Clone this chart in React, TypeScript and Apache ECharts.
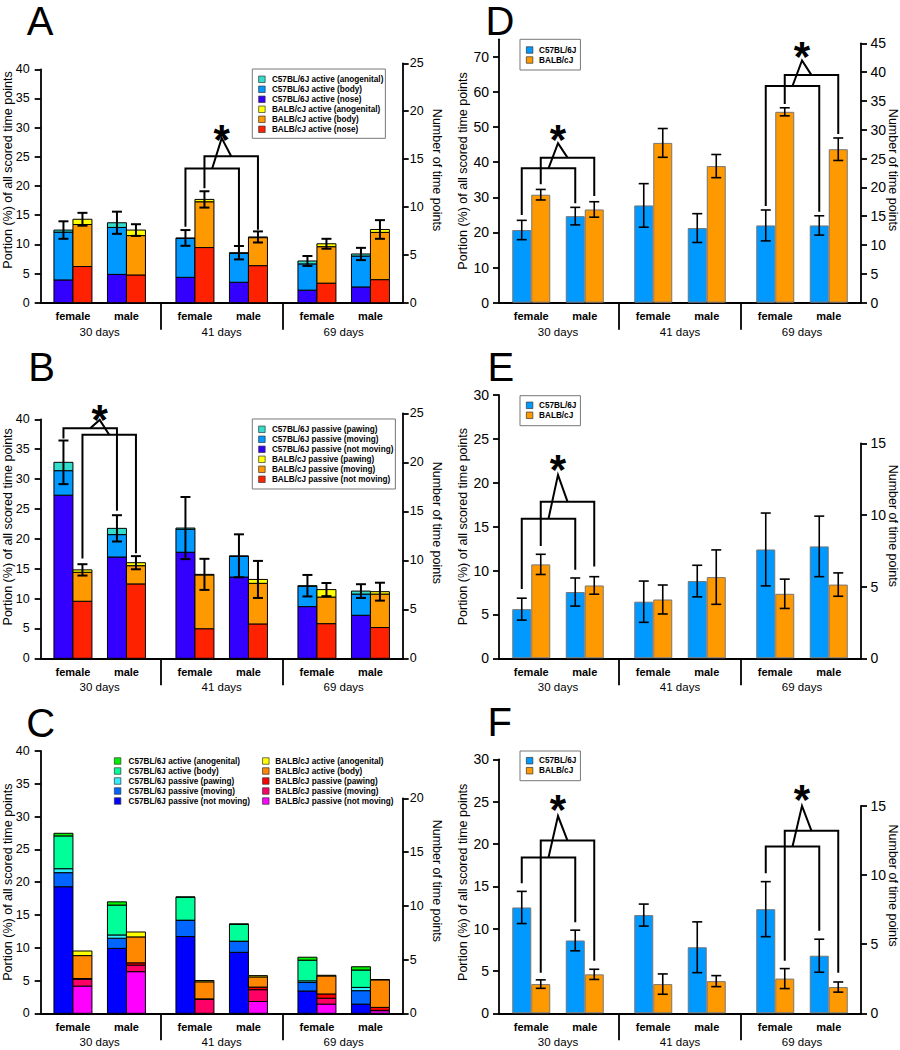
import React, { useEffect, useRef } from "react";
import * as echarts from "echarts";

const FONT = "'Liberation Sans', Arial, Helvetica, sans-serif";
const X_MAX = 362;
const BAR_W = 19;

const dayLabels = ["30 days", "41 days", "69 days"];
const sexLabels = ["female", "male"];
const strainNames = ["C57BL/6J", "BALB/cJ"];
const yTitle = "Portion (%) of all scored time points";
const rTitle = "Number of time points";

const pct40Ticks = [0, 5, 10, 15, 20, 25, 30, 35, 40];
const pct70Ticks = [0, 10, 20, 30, 40, 50, 60, 70];
const pct30Ticks = [0, 5, 10, 15, 20, 25, 30];
const n25Ticks = [0, 5, 10, 15, 20, 25];
const n20Ticks = [0, 5, 10, 15, 20];
const n45Ticks = [0, 5, 10, 15, 20, 25, 30, 35, 40, 45];
const n15Ticks = [0, 5, 10, 15];

// Order of every value array: female 30 d, male 30 d, female 41 d, male 41 d, female 69 d, male 69 d
// Panel A – active (stacked bottom -> top: nose, body, anogenital)
const aC57Nose = [3.9, 4.85, 4.35, 3.5, 2.15, 2.7];
const aC57Body = [8.2, 8.05, 6.65, 4.95, 4.5, 5.3];
const aC57Ano = [0.35, 0.8, 0.1, 0.12, 0.5, 0.35];
const aBalbNose = [6.2, 4.75, 9.45, 6.35, 3.35, 3.95];
const aBalbBody = [7.2, 6.75, 7.85, 4.8, 6.25, 8.1];
const aBalbAno = [0.9, 0.95, 0.4, 0.12, 0.5, 0.5];
const aC57Err = [1.5, 1.9, 1.35, 1.15, 0.85, 1.05];
const aBalbErr = [1.1, 1.0, 1.4, 0.95, 0.85, 1.6];

// Panel B – passive (stacked: not moving, moving, pawing)
const bC57Still = [27.3, 16.95, 17.75, 13.6, 8.65, 7.2];
const bC57Moving = [4.1, 3.75, 3.85, 3.45, 3.4, 3.55];
const bC57Pawing = [1.4, 1.05, 0.2, 0.1, 0.1, 0.5];
const bBalbStill = [9.55, 12.45, 4.95, 5.75, 5.8, 5.15];
const bBalbMoving = [4.85, 3.05, 9.0, 6.8, 4.45, 5.6];
const bBalbPawing = [0.4, 0.5, 0.1, 0.65, 1.25, 0.4];
const bC57Err = [3.65, 2.2, 5.2, 3.6, 1.8, 1.15];
const bBalbErr = [0.95, 1.1, 2.6, 3.1, 1.1, 1.5];

// Panel C – all categories (stacked: passive not moving, moving, pawing, active body, anogenital)
const cC57Still = [19.3, 9.9, 11.7, 9.3, 3.4, 1.4];
const cC57Moving = [2.15, 1.55, 2.45, 1.65, 1.3, 2.05];
const cC57Pawing = [0.6, 0.5, 0.05, 0.05, 0.25, 0.5];
const cC57Body = [5.0, 4.55, 3.5, 2.55, 3.15, 2.65];
const cC57Ano = [0.4, 0.5, 0.05, 0.1, 0.45, 0.5];
const cBalbStill = [4.15, 6.35, 0, 1.8, 1.4, 0.4];
const cBalbMoving = [1.05, 1.0, 2.15, 1.8, 0.9, 0.05];
const cBalbPawing = [0.1, 0.35, 0.05, 0.4, 0.65, 0.45];
const cBalbBody = [3.5, 3.95, 2.6, 1.55, 2.75, 4.2];
const cBalbAno = [0.7, 0.75, 0.2, 0.2, 0.1, 0.05];

// Panel D
const dC57 = [20.7, 24.65, 27.7, 21.25, 22.0, 22.0];
const dBalb = [30.75, 26.55, 45.5, 38.9, 54.35, 43.7];
const dC57Err = [2.75, 2.5, 6.2, 4.1, 4.4, 2.75];
const dBalbErr = [1.5, 2.2, 4.1, 3.3, 1.15, 3.2];
// Panel E
const eC57 = [5.6, 7.55, 6.45, 8.8, 12.4, 12.75];
const eBalb = [10.7, 8.3, 6.7, 9.25, 7.35, 8.4];
const eC57Err = [1.25, 1.6, 2.35, 1.8, 4.15, 3.45];
const eBalbErr = [1.15, 1.0, 1.65, 3.1, 1.67, 1.33];
// Panel F
const fC57 = [12.5, 8.6, 11.6, 7.8, 12.3, 6.8];
const fBalb = [3.45, 4.6, 3.45, 3.8, 4.1, 3.1];
const fC57Err = [1.9, 1.22, 1.3, 3.0, 3.25, 1.95];
const fBalbErr = [0.5, 0.6, 1.2, 0.65, 1.18, 0.6];

// Significance brackets: [day group, C57 level, C57 left leg end, C57 right leg end,
//   BALB level, BALB left leg end, BALB right leg end, apex, asterisk]
const aSig = [[1, 23.0, 13.0, 9.9, 25.1, 19.6, 12.5, 28.2, 29.3]];
const bSig = [[0, 38.5, 36.8, 24.7, 37.4, 16.7, 17.6, 39.9, 41.3]];
const dSig = [
  [0, 38.25, 25.0, 28.3, 41.3, 33.7, 30.4, 45.4, 48.7],
  [2, 61.7, 27.5, 25.9, 64.8, 56.6, 48.0, 69.0, 72.4],
];
const eSig = [[0, 15.9, 7.9, 10.1, 17.85, 12.8, 10.45, 20.9, 22.4]];
const fSig = [
  [0, 18.4, 15.35, 10.75, 20.4, 4.8, 6.2, 23.3, 25.0],
  [2, 19.7, 16.55, 9.75, 21.55, 6.2, 4.8, 24.5, 26.2],
];

// ---------- layout helpers ----------
const groupCenter = (g: number) => 59 + 122 * g;
const groupBounds = [120, 242];
const pairCenter = (i: number) => groupCenter(Math.floor(i / 2)) + (i % 2 ? 26.75 : -26.75);
const barX = (i: number, s: number) => pairCenter(i) + ((s ? 1 : -1) * BAR_W) / 2;
const pairCenters = [0, 1, 2, 3, 4, 5].map(pairCenter);
const groupCenters = [0, 1, 2].map(groupCenter);
const nearest = (arr: number[], v: number) => {
  let b = 0;
  arr.forEach((a, i) => {
    if (Math.abs(a - v) < Math.abs(arr[b] - v)) b = i;
  });
  return b;
};

interface Seg { label: string; strain: number; color: string; values: number[] }
interface Leg { left: number; top: number; padding: number[]; box: number; boxed: boolean; items: string[] }
interface Panel {
  id: string; letter: number[]; left: number; top: number; base: number; rTop: number;
  yMax: number; yTicks: number[]; rMax: number; rTicks: number[];
  tickSize: number; lMargin: number; rMargin: number; lGap: number; rGap: number; lShift: number; rShift: number;
  stacked: boolean; segs: Seg[]; errs: number[][] | null; border: string; errW: number; sig: number[][]; legends: Leg[];
}

const C57 = strainNames[0];
const BALB = strainNames[1];

const panels: Panel[] = [
  {
    id: "A", letter: [40, 21], left: 40.7, top: 69.3, base: 302.7, rTop: 63.3,
    yMax: 40, yTicks: pct40Ticks, rMax: 25, rTicks: n25Ticks,
    tickSize: 12.5, lMargin: 11, rMargin: 7, lGap: 27.4, rGap: 29, lShift: 16, rShift: 13,
    stacked: true, border: "#000", errW: 2,
    segs: [
      { label: `${C57} active (nose)`, strain: 0, color: "#3300ff", values: aC57Nose },
      { label: `${C57} active (body)`, strain: 0, color: "#0099ff", values: aC57Body },
      { label: `${C57} active (anogenital)`, strain: 0, color: "#33ddcc", values: aC57Ano },
      { label: `${BALB} active (nose)`, strain: 1, color: "#ff2200", values: aBalbNose },
      { label: `${BALB} active (body)`, strain: 1, color: "#ff9900", values: aBalbBody },
      { label: `${BALB} active (anogenital)`, strain: 1, color: "#ffff00", values: aBalbAno },
    ],
    errs: [aC57Err, aBalbErr], sig: aSig,
    legends: [{
      left: 252.3, top: 69, padding: [5.3, 2, 4, 6], box: 10, boxed: true,
      items: [`${C57} active (anogenital)`, `${C57} active (body)`, `${C57} active (nose)`, `${BALB} active (anogenital)`, `${BALB} active (body)`, `${BALB} active (nose)`],
    }],
  },
  {
    id: "B", letter: [41.7, 366.7], left: 40.7, top: 419.3, base: 658.3, rTop: 413.3,
    yMax: 40, yTicks: pct40Ticks, rMax: 25, rTicks: n25Ticks,
    tickSize: 12.5, lMargin: 11, rMargin: 7, lGap: 27.4, rGap: 29, lShift: 12, rShift: 13,
    stacked: true, border: "#000", errW: 2,
    segs: [
      { label: `${C57} passive (not moving)`, strain: 0, color: "#3300ff", values: bC57Still },
      { label: `${C57} passive (moving)`, strain: 0, color: "#0099ff", values: bC57Moving },
      { label: `${C57} passive (pawing)`, strain: 0, color: "#33ddcc", values: bC57Pawing },
      { label: `${BALB} passive (not moving)`, strain: 1, color: "#ff2200", values: bBalbStill },
      { label: `${BALB} passive (moving)`, strain: 1, color: "#ff9900", values: bBalbMoving },
      { label: `${BALB} passive (pawing)`, strain: 1, color: "#ffff00", values: bBalbPawing },
    ],
    errs: [bC57Err, bBalbErr], sig: bSig,
    legends: [{
      left: 252.3, top: 419, padding: [5.3, 2, 4.7, 6], box: 10, boxed: true,
      items: [`${C57} passive (pawing)`, `${C57} passive (moving)`, `${C57} passive (not moving)`, `${BALB} passive (pawing)`, `${BALB} passive (moving)`, `${BALB} passive (not moving)`],
    }],
  },
  {
    id: "C", letter: [40.8, 722.5], left: 40.7, top: 751, base: 1013.3, rTop: 798.3,
    yMax: 40, yTicks: pct40Ticks, rMax: 20, rTicks: n20Ticks,
    tickSize: 12.5, lMargin: 11, rMargin: 7, lGap: 27.4, rGap: 29, lShift: 0, rShift: 25,
    stacked: true, border: "#000", errW: 2,
    segs: [
      { label: `${C57} passive (not moving)`, strain: 0, color: "#0000ff", values: cC57Still },
      { label: `${C57} passive (moving)`, strain: 0, color: "#0066ff", values: cC57Moving },
      { label: `${C57} passive (pawing)`, strain: 0, color: "#33eeff", values: cC57Pawing },
      { label: `${C57} active (body)`, strain: 0, color: "#00ff99", values: cC57Body },
      { label: `${C57} active (anogenital)`, strain: 0, color: "#00ee00", values: cC57Ano },
      { label: `${BALB} passive (not moving)`, strain: 1, color: "#ff00ff", values: cBalbStill },
      { label: `${BALB} passive (moving)`, strain: 1, color: "#ff0066", values: cBalbMoving },
      { label: `${BALB} passive (pawing)`, strain: 1, color: "#ff0000", values: cBalbPawing },
      { label: `${BALB} active (body)`, strain: 1, color: "#ff8800", values: cBalbBody },
      { label: `${BALB} active (anogenital)`, strain: 1, color: "#ffff00", values: cBalbAno },
    ],
    errs: null, sig: [],
    legends: [
      {
        left: 114, top: 756, padding: [0, 0, 0, 0], box: 12, boxed: false,
        items: [`${C57} active (anogenital)`, `${C57} active (body)`, `${C57} passive (pawing)`, `${C57} passive (moving)`, `${C57} passive (not moving)`],
      },
      {
        left: 262.2, top: 756, padding: [0, 0, 0, 0], box: 9, boxed: false,
        items: [`${BALB} active (anogenital)`, `${BALB} active (body)`, `${BALB} passive (pawing)`, `${BALB} passive (moving)`, `${BALB} passive (not moving)`],
      },
    ],
  },
  {
    id: "D", letter: [500, 21], left: 499, top: 39.3, base: 302.7, rTop: 43.3,
    yMax: 75, yTicks: pct70Ticks, rMax: 45, rTicks: n45Ticks,
    tickSize: 14, lMargin: 10, rMargin: 9.5, lGap: 31.3, rGap: 27, lShift: 0, rShift: 3,
    stacked: false, border: "#777", errW: 1.6,
    segs: [
      { label: C57, strain: 0, color: "#0099ff", values: dC57 },
      { label: BALB, strain: 1, color: "#ff9900", values: dBalb },
    ],
    errs: [dC57Err, dBalbErr], sig: dSig,
    legends: [{ left: 520, top: 39.3, padding: [5.7, 4, 5, 6], box: 9, boxed: true, items: [C57, BALB] }],
  },
  {
    id: "E", letter: [500.8, 366.7], left: 499, top: 395, base: 658.3, rTop: 443.3,
    yMax: 30, yTicks: pct30Ticks, rMax: 15, rTicks: n15Ticks,
    tickSize: 14, lMargin: 10, rMargin: 9.5, lGap: 31.3, rGap: 27, lShift: 0, rShift: 25,
    stacked: false, border: "#777", errW: 1.6,
    segs: [
      { label: C57, strain: 0, color: "#0099ff", values: eC57 },
      { label: BALB, strain: 1, color: "#ff9900", values: eBalb },
    ],
    errs: [eC57Err, eBalbErr], sig: eSig,
    legends: [{ left: 520, top: 395.7, padding: [4.6, 4, 5.4, 6], box: 9, boxed: true, items: [C57, BALB] }],
  },
  {
    id: "F", letter: [499.7, 722], left: 499, top: 759.3, base: 1013.3, rTop: 806,
    yMax: 30, yTicks: pct30Ticks, rMax: 15, rTicks: n15Ticks,
    tickSize: 14, lMargin: 10, rMargin: 9.5, lGap: 31.3, rGap: 27, lShift: 4, rShift: 24,
    stacked: false, border: "#777", errW: 1.6,
    segs: [
      { label: C57, strain: 0, color: "#0099ff", values: fC57 },
      { label: BALB, strain: 1, color: "#ff9900", values: fBalb },
    ],
    errs: [fC57Err, fBalbErr], sig: fSig,
    legends: [{ left: 520, top: 751, padding: [4.7, 4, 5, 6], box: 9, boxed: true, items: [C57, BALB] }],
  },
];

function buildOption() {
  const grid: any[] = [];
  const xAxis: any[] = [];
  const yAxis: any[] = [];
  const series: any[] = [];
  const legend: any[] = [];
  const graphic: any[] = [];
  const line = { color: "#000", width: 1.8 };

  panels.forEach((p) => {
    const gMain = grid.length;
    const width = X_MAX;
    grid.push({ left: p.left, top: p.top, width, height: p.base - p.top, outerBoundsMode: "none", containLabel: false });
    grid.push({ left: p.left, top: p.rTop, width, height: p.base - p.rTop, outerBoundsMode: "none", containLabel: false });

    const xMain = xAxis.length;
    xAxis.push({
      type: "value", gridIndex: gMain, min: 0, max: X_MAX, position: "bottom",
      axisLine: { show: true, onZero: false, lineStyle: line },
      axisTick: { show: true, customValues: groupBounds, length: 27, lineStyle: line },
      axisLabel: {
        show: true, customValues: pairCenters,
        formatter: (v: number) => sexLabels[nearest(pairCenters, v) % 2],
        fontFamily: FONT, fontSize: 11, fontWeight: "bold", color: "#000", margin: 8,
      },
      splitLine: { show: false },
    });
    xAxis.push({
      type: "value", gridIndex: gMain, min: 0, max: X_MAX, position: "bottom",
      axisLine: { show: false, onZero: false }, axisTick: { show: false }, splitLine: { show: false },
      axisLabel: {
        show: true, customValues: groupCenters,
        formatter: (v: number) => dayLabels[nearest(groupCenters, v)],
        fontFamily: FONT, fontSize: 11.5, color: "#000", margin: 23,
      },
    });
    xAxis.push({ type: "value", gridIndex: gMain + 1, min: 0, max: 1, show: false });

    const yMain = yAxis.length;
    yAxis.push({
      type: "value", gridIndex: gMain, min: 0, max: p.yMax, position: "left",
      axisLine: { show: true, onZero: false, lineStyle: line },
      axisTick: { show: true, customValues: p.yTicks, length: 6, lineStyle: line },
      axisLabel: { show: true, customValues: p.yTicks, fontFamily: FONT, fontSize: p.tickSize, color: "#000", margin: p.lMargin },
      splitLine: { show: false },
      name: yTitle, nameLocation: "middle", nameGap: p.lGap, nameMoveOverlap: false,
      nameTextStyle: { fontFamily: FONT, fontSize: 12.5, color: "#000", lineHeight: 10, padding: [0, 0, 0, 2 * p.lShift] },
    });
    yAxis.push({
      type: "value", gridIndex: gMain + 1, min: 0, max: p.rMax, position: "right",
      axisLine: { show: true, onZero: false, lineStyle: line },
      axisTick: { show: true, customValues: p.rTicks, length: 6, lineStyle: line },
      axisLabel: { show: true, customValues: p.rTicks, fontFamily: FONT, fontSize: p.tickSize, color: "#000", margin: p.rMargin },
      splitLine: { show: false },
      name: rTitle, nameLocation: "middle", nameRotate: -90, nameGap: p.rGap, nameMoveOverlap: false,
      nameTextStyle: { fontFamily: FONT, fontSize: 12.5, color: "#000", lineHeight: 10, padding: [0, 2 * p.rShift, 0, 0] },
    });

    const border = p.border;
    p.segs.forEach((s, k) => {
      if (p.stacked) {
        const below = p.segs.slice(0, k).filter((o) => o.strain === s.strain);
        const data = s.values.map((v, i) => {
          const b = below.reduce((acc, o) => acc + o.values[i], 0);
          return [barX(i, s.strain), b, b + v];
        });
        const color = s.color;
        series.push({
          type: "custom", name: `${s.label}#${p.id}`, xAxisIndex: xMain, yAxisIndex: yMain, silent: true, z: 2,
          itemStyle: { color }, encode: { x: 0, y: [1, 2] },
          data,
          renderItem: (params: any, api: any) => {
            const x = api.value(0), b = api.value(1), t = api.value(2);
            const top = api.coord([x, t]);
            const bot = api.coord([x, b]);
            const w = api.size([BAR_W, 0])[0];
            return {
              type: "rect",
              shape: { x: top[0] - w / 2, y: top[1], width: w, height: bot[1] - top[1] },
              style: { fill: color, stroke: border, lineWidth: 1 },
            };
          },
        });
      } else {
        series.push({
          type: "bar", name: `${s.label}#${p.id}`, xAxisIndex: xMain, yAxisIndex: yMain,
          barWidth: BAR_W, barGap: "-100%", silent: true,
          itemStyle: { color: s.color, borderColor: border, borderWidth: 1 },
          emphasis: { disabled: true },
          data: s.values.map((v, i) => [barX(i, s.strain), v]),
        });
      }
    });

    if (p.errs) {
      const errData: number[][] = [];
      [0, 1].forEach((st) => {
        const segs = p.segs.filter((s) => s.strain === st);
        p.errs![st].forEach((e, i) => {
          const total = segs.reduce((acc, s) => acc + s.values[i], 0);
          errData.push([barX(i, st), total, e]);
        });
      });
      const ew = p.errW;
      series.push({
        type: "custom", name: `err#${p.id}`, xAxisIndex: xMain, yAxisIndex: yMain, z: 5, silent: true,
        data: errData,
        renderItem: (params: any, api: any) => {
          const x = api.value(0), t = api.value(1), e = api.value(2);
          const a = api.coord([x, t + e]);
          const b = api.coord([x, t - e]);
          const st = { stroke: "#000", lineWidth: ew };
          return {
            type: "group",
            children: [
              { type: "line", shape: { x1: a[0], y1: a[1], x2: b[0], y2: b[1] }, style: st },
              { type: "line", shape: { x1: a[0] - 5, y1: a[1], x2: a[0] + 5, y2: a[1] }, style: st },
              { type: "line", shape: { x1: b[0] - 5, y1: b[1], x2: b[0] + 5, y2: b[1] }, style: st },
            ],
          };
        },
      });
    }

    if (p.sig.length) {
      const sig = p.sig;
      series.push({
        type: "custom", name: `sig#${p.id}`, xAxisIndex: xMain, yAxisIndex: yMain, z: 6, silent: true, clip: false,
        data: sig.map((s) => [groupCenter(s[0]), s[7]]),
        renderItem: (params: any, api: any) => {
          const s = sig[params.dataIndex];
          const g = s[0];
          const i0 = 2 * g, i1 = 2 * g + 1;
          const P = (x: number, y: number) => api.coord([x, y]);
          const st = { stroke: "#000", lineWidth: 2, fill: null };
          const br = (strain: number, lvl: number, l: number, r: number) => ({
            type: "polyline",
            shape: { points: [P(barX(i0, strain), l), P(barX(i0, strain), lvl), P(barX(i1, strain), lvl), P(barX(i1, strain), r)] },
            style: st,
          });
          const mx0 = (barX(i0, 0) + barX(i1, 0)) / 2;
          const mx1 = (barX(i0, 1) + barX(i1, 1)) / 2;
          const ax = (mx0 + mx1) / 2;
          const star = P(ax, s[8]);
          return {
            type: "group",
            children: [
              br(0, s[1], s[2], s[3]),
              br(1, s[4], s[5], s[6]),
              { type: "polyline", shape: { points: [P(mx0, s[1]), P(ax, s[7]), P(mx1, s[4])] }, style: st },
              {
                type: "text", x: star[0], y: star[1] + 8,
                style: { text: "*", fontSize: 42, fontWeight: "bold", fontFamily: FONT, fill: "#000", align: "center", verticalAlign: "middle", lineHeight: 24 },
              },
            ],
          };
        },
      });
    }

    p.legends.forEach((l) => {
      legend.push({
        show: true, orient: "vertical", left: l.left, top: l.top, padding: l.padding,
        itemGap: 0, itemWidth: l.box, itemHeight: 6.5,
        icon: "path://M0,0H10V10H0Z", symbolKeepAspect: true, selectedMode: false,
        data: l.items.map((n) => `${n}#${p.id}`),
        formatter: (n: string) => n.split("#")[0],
        textStyle: { fontFamily: FONT, fontSize: 8.2, fontWeight: "bold", color: "#000", lineHeight: 10 },
        borderColor: l.boxed ? "#777" : "transparent", borderWidth: l.boxed ? 1 : 0,
        backgroundColor: l.boxed ? "#fff" : "transparent",
        itemStyle: { borderColor: "#333", borderWidth: 0.7 },
      });
    });

    graphic.push({
      type: "text", x: p.letter[0], y: p.letter[1],
      style: { text: p.id, fontSize: 40, lineHeight: 30, fontFamily: FONT, fill: "#000", align: "center", verticalAlign: "middle" },
    });
  });

  return {
    animation: false,
    backgroundColor: "#fff",
    textStyle: { fontFamily: FONT },
    grid, xAxis, yAxis, series, legend, graphic,
  };
}

export default function App() {
  const ref = useRef<HTMLDivElement>(null);
  useEffect(() => {
    if (!ref.current) return;
    const chart = echarts.init(ref.current, undefined, { renderer: "svg" });
    chart.setOption(buildOption() as any);
    return () => chart.dispose();
  }, []);
  return <div ref={ref} style={{ position: "absolute", left: 0, top: 0, width: 900, height: 1050 }} />;
}
